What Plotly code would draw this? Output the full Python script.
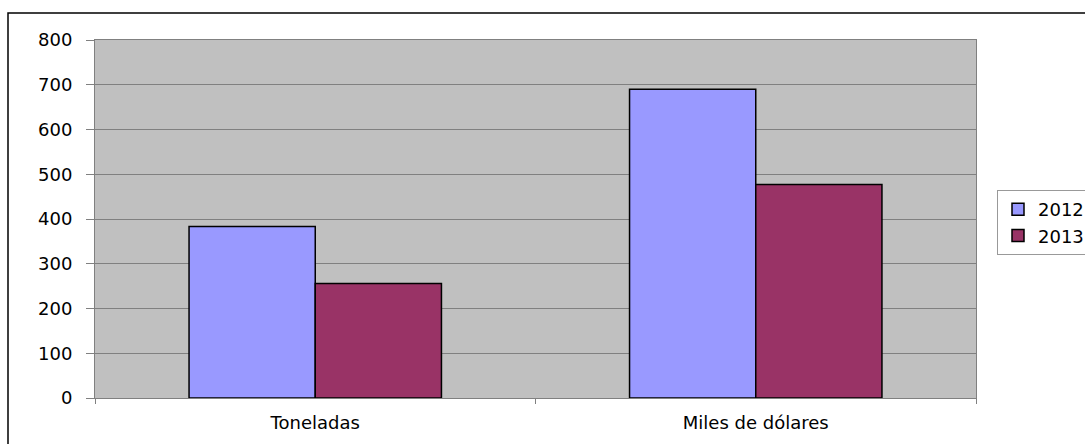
import plotly.graph_objects as go

categories = ["Toneladas", "Miles de dólares"]
years = ["2012", "2013"]
values_2012 = [383, 690]
values_2013 = [256, 477]
colors = ["#9999FF", "#993366"]
y_ticks = [0, 100, 200, 300, 400, 500, 600, 700, 800]

fig = go.Figure()
for name, vals, col in zip(years, [values_2012, values_2013], colors):
    fig.add_trace(go.Bar(
        x=categories, y=vals, name=name,
        marker=dict(color=col, line=dict(color="black", width=1.5)),
    ))

W, H = 1085, 444
ml, mr, mt, mb = 95, 109, 40, 46
pw = W - ml - mr
ph = H - mt - mb

fig.update_layout(
    width=W, height=H,
    margin=dict(l=ml, r=mr, t=mt, b=mb, pad=0, autoexpand=False),
    paper_bgcolor="white",
    plot_bgcolor="#C0C0C0",
    barmode="group",
    bargap=0.427,
    bargroupgap=0,
    font=dict(family="DejaVu Sans, Liberation Sans, Arial, sans-serif", size=18, color="black"),
    showlegend=True,
    legend=dict(
        xref="container", yref="container",
        x=997 / W, y=1 - 190 / H, xanchor="left", yanchor="top",
        bgcolor="white", bordercolor="#999999", borderwidth=1,
        font=dict(size=18), tracegroupgap=0, itemwidth=30,
    ),
    xaxis=dict(
        type="category", tickson="boundaries", ticks="outside", ticklen=5,
        tickcolor="#808080", showgrid=False, showline=True, linecolor="#808080",
        linewidth=1, mirror=True, zeroline=False, ticklabelstandoff=8,
    ),
    yaxis=dict(
        range=[0, 800], tickvals=y_ticks, ticks="outside", ticklen=8,
        tickcolor="#808080", showgrid=True, gridcolor="#808080", gridwidth=1,
        showline=True, linecolor="#808080", linewidth=1, mirror=True,
        zeroline=False, ticklabelstandoff=10,
    ),
    shapes=[dict(
        type="rect", xref="paper", yref="paper",
        x0=(8 - ml) / pw, x1=(W + 200 - ml) / pw,
        y0=(H - mb - (H + 200)) / ph, y1=(H - mb - 13) / ph,
        line=dict(color="black", width=1.5), fillcolor="rgba(0,0,0,0)",
        layer="below",
    )],
)

fig.write_html("out.html")
